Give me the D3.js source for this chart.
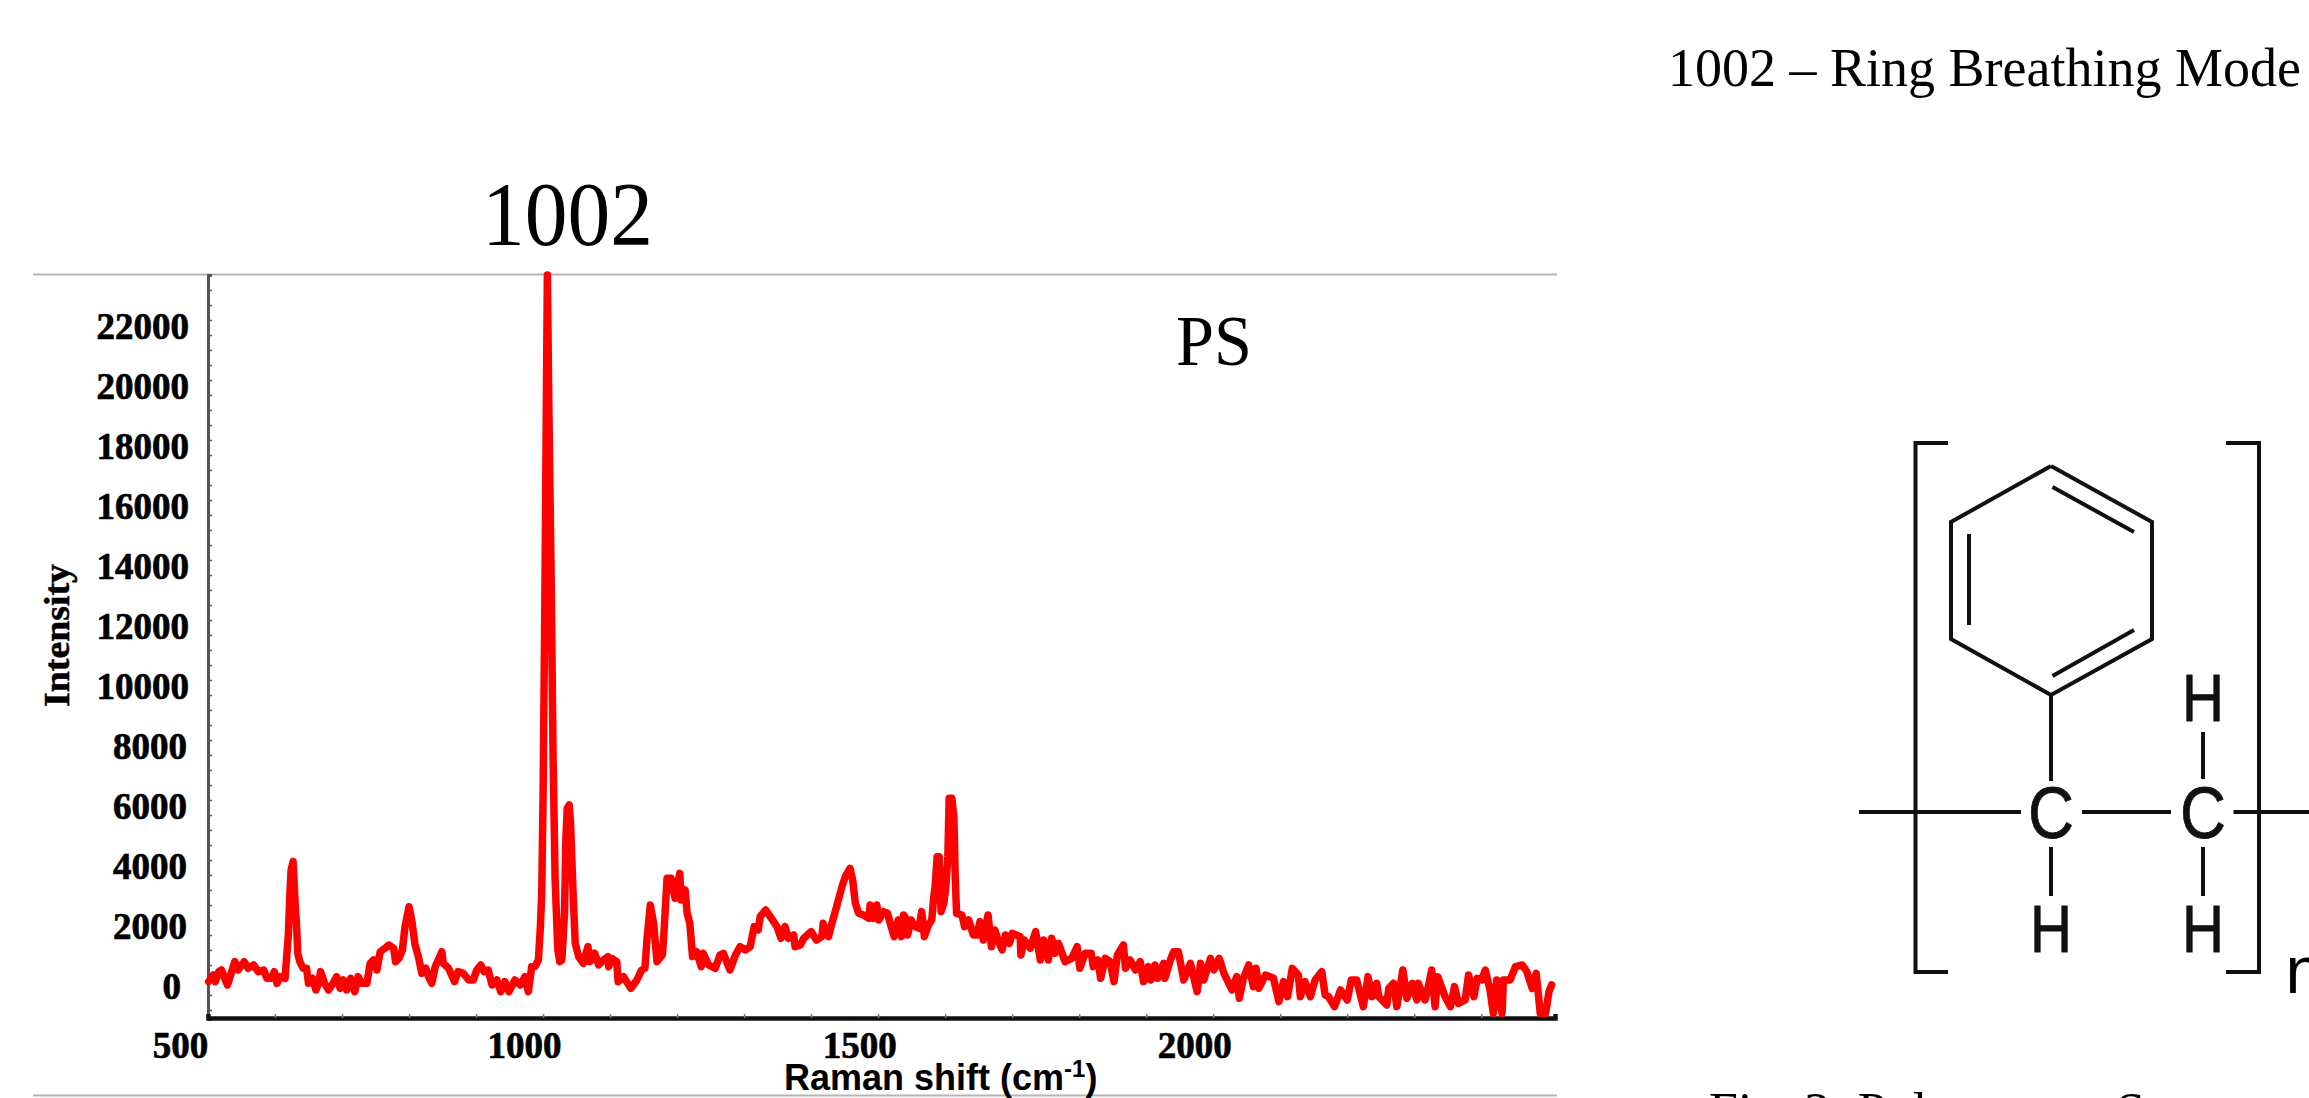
<!DOCTYPE html>
<html>
<head>
<meta charset="utf-8">
<title>PS Raman spectrum</title>
<script src="https://cdn.jsdelivr.net/npm/d3@7"></script>
<style>
html,body{margin:0;padding:0;background:#fff;overflow:hidden}
svg{display:block}
</style>
</head>
<body>
<svg id="c" width="2309" height="1098"></svg>
<script>
// ---------- data ----------
const ramanShift = [
501,508,511,516,520,524,529,533,540,545,554,560,568,575,583,588,595,599,603,607,615,617,620,622,624,627,630,632,634,637,642,647,650,656,661,665,668,674,680,685,692,697,702,707,713,719,724,729,737,742,747,752,757,764,770,777,780,785,790,794,800,804,809,814,819,825,829,834,839,849,851,859,868,873,881,889,896,901,907,912,918,924,931,937,943,949,958,966,973,978,983,988,993,996,998,
1000,1002.5,1005,1006.4,1008.5,1012,1015,1018,1022,1025,1028,
1032,1034,1036,1039,1041,1043,1045,1048,1053,1060,1067,1070,1077,1083,1090,1097,1098,1102,1110,1112,1120,1131,1140,1147,1152,1155,1160,1165,1170,1178,1180,1185,1191,1197,1204,1206,1212,1215,1219,1223,1229,1236,1239,1247,1257,1264,1269,1274,1279,1287,1294,1302,1309,1315,1321,1324,1332,1339,1349,1355,1361,1366,1374,1376,1384,1389,1400,1408,1416,1418,1426,1431,1438,1446,1451,1458,1462,1466,1471,1478,1486,1488,1493,1498,1501,1508,1514,1518,1524,1530,1535,1538,
1540,1544,1549,1555,1561,1565,1569,1575,1580,1583,1585,1588,1591,1594,1598,1601,1604,1606,1610,1613,1615,1617,1625,1629,1635,1642,1647,1652,1657,1664,1669,1674,1679,1685,1690,1696,1700,1712,1713,1718,1727,1735,1742,1747,1754,1759,1764,1769,1779,1789,1797,1801,1809,1818,1821,1828,1832,1839,1846,1852,1857,1866,1869,1876,1884,1891,1896,1903,1907,1913,1917,1926,1928,1936,1941,1948,1956,1966,1976,1981,1986,1996,2001,2009,2016,2028,2035,2039,2045,2053,2060,
2064,2068,2078,2090,2098,2105,2111,2118,2127,2130,2137,2145,2152,2162,2167,2172,2181,2190,2200,2206,2214,2224,2231,2237,2244,2247,2259,2262,2269,2274,2283,2289,2297,2304,2306,2316,2321,2326,2331,2335,2346,2354,2360,2366,2376,2381,2389,2394,2401,2406,2413,2418,2423,2431,2433,2443,2451,2461,2468,2476,2482,2488,2496,2501,2505
];
const intensity = [
445,667,445,778,833,611,333,611,1111,833,1111,889,1000,778,833,556,556,778,389,611,556,1167,2056,3278,4167,4450,3056,2389,1389,1111,889,889,389,556,167,389,778,389,167,333,611,222,500,167,556,111,611,389,389,1056,1167,833,1444,1556,1667,1556,1111,1222,1500,2278,2944,2500,1667,1278,722,889,611,389,944,1444,1056,889,444,778,722,500,500,833,1000,778,833,333,500,111,444,111,500,333,611,111,944,944,1167,2278,3389,
6647,12633,20067,24000,19833,14033,7800,3834,1500,1112,1167,
2723,5167,6223,6334,5723,4500,3278,1723,1279,1056,1612,1112,1390,1001,1168,1279,945,1223,1112,445,612,223,501,834,890,1834,3001,2390,1112,1334,1945,3890,3890,3223,4056,3167,3501,2723,2390,1279,1445,945,1390,1001,890,1334,1390,1112,834,1334,1612,1501,1612,2279,2168,2612,2834,2612,2279,1890,2279,1890,2001,1612,1668,1890,2112,1834,1945,2390,1945,2390,2945,3612,3945,4223,3834,3056,2723,2667,2556,3001,2556,3001,2501,2779,2723,2390,1945,2501,1945,2667,
2612,2001,2501,2279,2223,2779,1945,2334,2501,3278,3612,4612,4612,2779,3056,3612,4612,6556,6556,5945,3945,2723,2667,2279,2501,2001,2001,2445,1834,2667,1612,2168,1834,1501,2001,1723,2056,1945,1334,1834,1556,2112,1167,1834,1167,1890,1390,1723,1112,1223,1612,890,1390,1390,945,1167,556,1223,1112,445,1334,1668,890,1167,834,1112,445,945,501,1001,556,1056,556,1167,1445,1445,501,1056,112,1056,501,1223,834,1223,723,167,612,-110,556,1001,279,
889,223,667,556,-222,445,-55,889,667,-55,445,-55,500,778,0,-55,-388,167,-166,500,500,-388,612,-55,389,-55,-333,223,389,-388,834,-111,389,-166,389,-166,278,834,-388,612,-55,-388,278,-277,-166,667,-55,556,500,834,167,-610,500,-610,500,500,945,1000,778,223,723,-610,-610,111,334
];
const yTickLabels = [0,2000,4000,6000,8000,10000,12000,14000,16000,18000,20000,22000];
const xTickLabels = [500,1000,1500,2000];
const yTitle = "Intensity";
const xTitle = "Raman shift (cm";
const xTitleSup = "-1";
const xTitleEnd = ")";
const peakLabel = "1002";
const sampleLabel = "PS";
const modeLabel = "1002 \u2013 Ring Breathing Mode";
const captionLabel = "Fig. 2: Polystyrene Structure";

// ---------- scales ----------
const x = d3.scaleLinear().domain([500, 2510]).range([208, 1555]);
const y = d3.scaleLinear().domain([-800, 24000]).range([1019, 275]);

const svg = d3.select("#c");
const SERIF = "'Liberation Serif','Times New Roman',serif";
const SANS  = "'Liberation Sans',Arial,sans-serif";

// ---------- frame rules of the screenshot ----------
svg.selectAll("line.rule").data([274.5,1095.5]).join("line").attr("class","rule")
  .attr("x1",33).attr("x2",1557).attr("y1",d=>d).attr("y2",d=>d)
  .attr("stroke","#b4b4b4").attr("stroke-width",2);

// ---------- minor ticks and axis lines ----------
const yMinor = d3.range(-500, 24000, 500);
const xMinor = d3.range(600, 2500, 100);

svg.append("g").attr("transform","translate(208,0)")
  .call(d3.axisRight(y).tickValues(yMinor).tickSize(4).tickFormat(""))
  .call(g=>{g.select(".domain").attr("stroke","#555").attr("stroke-width",3);
            g.selectAll(".tick line").attr("stroke","#555").attr("stroke-width",1.5);});

svg.append("g").attr("transform","translate(0,1018)")
  .call(d3.axisTop(x).tickValues(xMinor).tickSize(4).tickFormat(""))
  .call(g=>{g.select(".domain").attr("stroke","#111").attr("stroke-width",4.5);
            g.selectAll(".tick line").attr("stroke","#777").attr("stroke-width",1.5);});

// ---------- tick labels ----------
const yAxis = d3.axisLeft(y).tickValues(yTickLabels).tickSize(0).tickFormat(d=>String(d));
svg.append("g").attr("transform","translate(0,0)").call(yAxis)
  .call(g=>{g.select(".domain").remove();
    g.selectAll("text").attr("font-family",SERIF).attr("font-weight","bold").attr("font-size",37)
      .attr("fill","#000").attr("stroke","#000").attr("stroke-width",0.7)
      .attr("text-anchor","end").attr("dy",null)
      .attr("x",d=>189-(5-String(d).length)*2).attr("y",3.5);});

const xAxis = d3.axisBottom(x).tickValues(xTickLabels).tickSize(0).tickFormat(d=>String(d));
svg.append("g").attr("transform","translate(0,1019)").call(xAxis)
  .call(g=>{g.select(".domain").remove();
    g.selectAll("text").attr("font-family",SERIF).attr("font-weight","bold").attr("font-size",37)
      .attr("fill","#000").attr("stroke","#000").attr("stroke-width",0.7)
      .attr("text-anchor","middle").attr("dy",null)
      .attr("x",d=>d===500?-28:-19).attr("y",39);});

// ---------- spectrum ----------
const line = d3.line().x(d=>x(d[0])).y(d=>y(d[1])).curve(d3.curveLinear);
svg.append("path").datum(d3.zip(ramanShift,intensity))
  .attr("d",line).attr("fill","none").attr("stroke","#ff0000")
  .attr("stroke-width",7.5).attr("stroke-linejoin","round").attr("stroke-linecap","round");

// ---------- text ----------
function label(t,px,py,size,len,opts={}){
  const s = svg.append("text").attr("x",px).attr("y",py)
    .attr("font-family",opts.family||SERIF).attr("font-size",size)
    .attr("font-weight",opts.weight||"normal").attr("fill","#000")
    .text(t);
  if(len) s.attr("textLength",len).attr("lengthAdjust","spacingAndGlyphs");
  return s;
}
label(peakLabel,482,245,90,171);
label(sampleLabel,1176,364.5,71,76);
label(modeLabel,1668,85.5,54);
label(captionLabel,1709,1129,52);
svg.append("text").attr("transform","translate(69,707) rotate(-90)")
  .attr("font-family",SERIF).attr("font-weight","bold").attr("font-size",36)
  .attr("stroke","#000").attr("stroke-width",0.5)
  .attr("textLength",143).attr("lengthAdjust","spacingAndGlyphs").text(yTitle);

const xt = svg.append("text").attr("x",784).attr("y",1090)
  .attr("font-family",SANS).attr("font-weight","bold").attr("font-size",36).attr("fill","#000");
xt.append("tspan").text(xTitle);
xt.append("tspan").attr("font-size",24).attr("dy",-13).text(xTitleSup);
xt.append("tspan").attr("dy",13).text(xTitleEnd);

// ---------- polystyrene repeat-unit drawing (not data) ----------
const struct = svg.append("g").attr("fill","none").attr("stroke","#111")
  .attr("stroke-width",4).attr("stroke-linejoin","miter");
const polylines = [
  [[1948,443],[1915.5,443],[1915.5,972],[1948,972]],
  [[2226,443],[2259,443],[2259,972],[2226,972]],
  [[2051,466],[2152,522],[2152,639],[2051,695],[1951,639],[1951,522],[2051,466]],
  [[2052.5,487],[2134,532]],
  [[1969,534],[1969,625]],
  [[2052.5,676],[2134,630]],
  [[2051,695],[2051,781]],
  [[1859,812],[2021,812]],
  [[2082,812],[2171,812]],
  [[2233.5,812],[2309,812]],
  [[2051,847],[2051,896]],
  [[2203,732],[2203,779]],
  [[2203,847],[2203,896]]
];
const pl = d3.line();
struct.selectAll("path").data(polylines).join("path").attr("d",pl);
const atoms = [["C",2051,838,72,46],["C",2203,838,72,46],["H",2051,952,66,42],["H",2203,952,66,42],["H",2203,721,66,42]];
svg.selectAll("text.atom").data(atoms).join("text").attr("class","atom")
  .attr("x",d=>d[1]-d[4]/2).attr("y",d=>d[2]).attr("font-family",SANS)
  .attr("font-size",d=>d[3]).attr("textLength",d=>d[4]).attr("lengthAdjust","spacingAndGlyphs")
  .attr("fill","#111").attr("stroke","#111").attr("stroke-width",0.8).text(d=>d[0]);
label("n",2285.5,993,66,null,{family:SANS});
</script>
</body>
</html>
